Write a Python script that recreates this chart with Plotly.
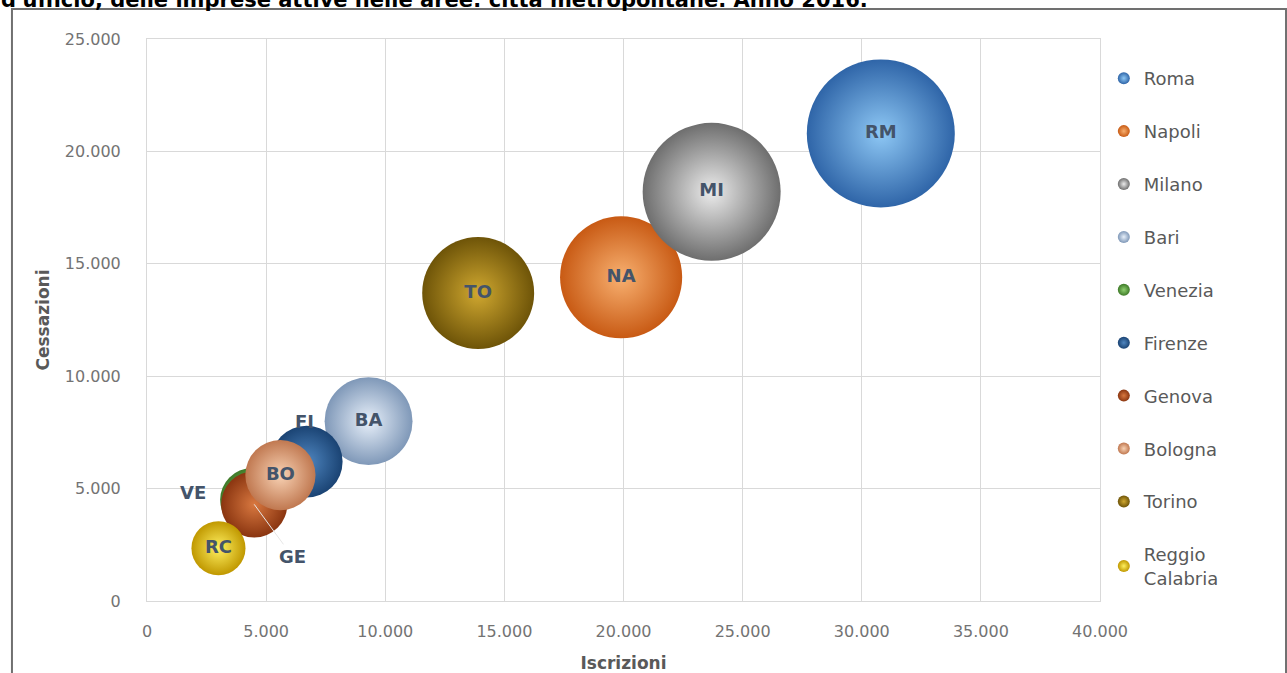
import plotly.graph_objects as go

# ---- data ----
citta = ["Roma", "Napoli", "Milano", "Bari", "Venezia", "Firenze", "Genova",
         "Bologna", "Torino", "Reggio<br>Calabria"]
sigle = ["RM", "NA", "MI", "BA", "VE", "FI", "GE", "BO", "TO", "RC"]
iscrizioni = [30800, 19900, 23700, 9300, 4400, 6700, 4500, 5600, 13900, 3000]
cessazioni = [20800, 14400, 18200, 8000, 4500, 6200, 4300, 5600, 13700, 2350]
imprese_attive = [360000, 245000, 313000, 127000, 66000, 85000, 72000, 81000, 206000, 48000]

titolo = "d'ufficio, delle imprese attive nelle aree: città metropolitane. Anno 2016."
x_titolo = "Iscrizioni"
y_titolo = "Cessazioni"

# ---- styles ----
colori_bordo = ["#2f65a8", "#c85a14", "#6e6e6e", "#7f98b8", "#3e7a28",
                "#1a4373", "#8a3510", "#c07850", "#6e5408", "#c09800"]
colori_centro = ["#8ec8f5", "#f8b070", "#ececec", "#e8f0fa", "#8fd070",
                 "#4f86c0", "#d87840", "#f8d2b4", "#d0a830", "#fff060"]
# label placement: "in" = centred on bubble, "ann" = drawn as annotation
pos_etichette = ["in", "in", "in", "in", "ann", "ann", "ann", "in", "in", "in"]

FONT = "DejaVu Sans"
LABEL_COL = "#44546a"
GREY = "#595959"
TICK_GREY = "#737373"

max_diam = 148
sizeref = 2.0 * max(imprese_attive) / (max_diam ** 2)

fig = go.Figure()
for i in range(len(citta)):
    show_text = pos_etichette[i] == "in"
    fig.add_trace(go.Scatter(
        x=[iscrizioni[i]], y=[cessazioni[i]],
        mode="markers+text" if show_text else "markers",
        name=citta[i],
        legendgroup=f"g{i}",
        text=[f"<b>{sigle[i]}</b>"] if show_text else None,
        textposition="middle center" if show_text else None,
        textfont=dict(family=FONT, size=18, color=LABEL_COL),
        marker=dict(
            size=[imprese_attive[i]], sizemode="area", sizeref=sizeref,
            color=colori_bordo[i],
            gradient=dict(type="radial", color=colori_centro[i]),
            line=dict(width=0),
            opacity=1,
        ),
        cliponaxis=False,
    ))

# Venezia label left of its (hidden) bubble
vi = sigle.index("VE")
fig.add_annotation(
    x=iscrizioni[vi], y=cessazioni[vi], xref="x", yref="y",
    text=f"<b>{sigle[vi]}</b>", showarrow=False, xshift=-59, yshift=7,
    font=dict(family=FONT, size=18, color=LABEL_COL),
)

# Firenze label above its bubble
fi = sigle.index("FI")
fig.add_annotation(
    x=iscrizioni[fi], y=cessazioni[fi], xref="x", yref="y",
    text=f"<b>{sigle[fi]}</b>", showarrow=False, yshift=40, xshift=-2,
    font=dict(family=FONT, size=18, color=LABEL_COL),
)

# Genova label with leader line
gi = sigle.index("GE")
fig.add_annotation(
    x=iscrizioni[gi], y=cessazioni[gi], xref="x", yref="y",
    text=f"<b>{sigle[gi]}</b>", showarrow=True, arrowhead=0,
    arrowcolor="#e6e6e6", arrowwidth=1, ax=38, ay=52,
    font=dict(family=FONT, size=18, color=LABEL_COL),
)

# title (partly cut by the top edge, as in the source)
fig.add_annotation(
    x=-0.1553, y=1.0444, xref="paper", yref="paper",
    xanchor="left", yanchor="bottom", showarrow=False,
    text=f"<b>{titolo}</b>",
    font=dict(family=FONT, size=21, color="black"),
)

# outer frame of the chart
fig.add_shape(type="rect", xref="paper", yref="paper",
              x0=-0.1417, x1=1.1952, y0=-0.2, y1=1.0534,
              line=dict(color="#707070", width=2), fillcolor="rgba(0,0,0,0)",
              layer="above")

fig.update_layout(
    width=1287, height=673,
    margin=dict(l=147, r=187, t=39, b=72, autoexpand=False),
    paper_bgcolor="white", plot_bgcolor="white",
    separators=",.",
    xaxis=dict(range=[0, 40000], dtick=5000, tickformat=",d",
               showgrid=True, gridcolor="#d9d9d9", gridwidth=1,
               zeroline=False, showline=True, linecolor="#d9d9d9", mirror=True,
               ticks="", ticklabelstandoff=16,
               tickfont=dict(family=FONT, size=16, color=TICK_GREY),
               title=dict(text=f"<b>{x_titolo}</b>", standoff=16,
                          font=dict(family=FONT, size=17, color=GREY))),
    yaxis=dict(range=[0, 25000], dtick=5000, tickformat=",d",
               showgrid=True, gridcolor="#d9d9d9", gridwidth=1,
               zeroline=False, showline=True, linecolor="#d9d9d9", mirror=True,
               ticks="", ticklabelstandoff=22,
               tickfont=dict(family=FONT, size=16, color=TICK_GREY),
               title=dict(text=f"<b>{y_titolo}</b>", standoff=10,
                          font=dict(family=FONT, size=17, color=GREY))),
    legend=dict(x=1.004, xanchor="left", y=0.9626, yanchor="top",
                font=dict(family=FONT, size=18, color=GREY),
                itemsizing="constant", tracegroupgap=26.5, maxheight=1,
                bgcolor="rgba(0,0,0,0)"),
    showlegend=True,
)

fig.write_html(
    "out.html",
    config={"displayModeBar": False},
    post_script="document.body.style.margin='0';document.body.style.overflow='hidden';",
)
